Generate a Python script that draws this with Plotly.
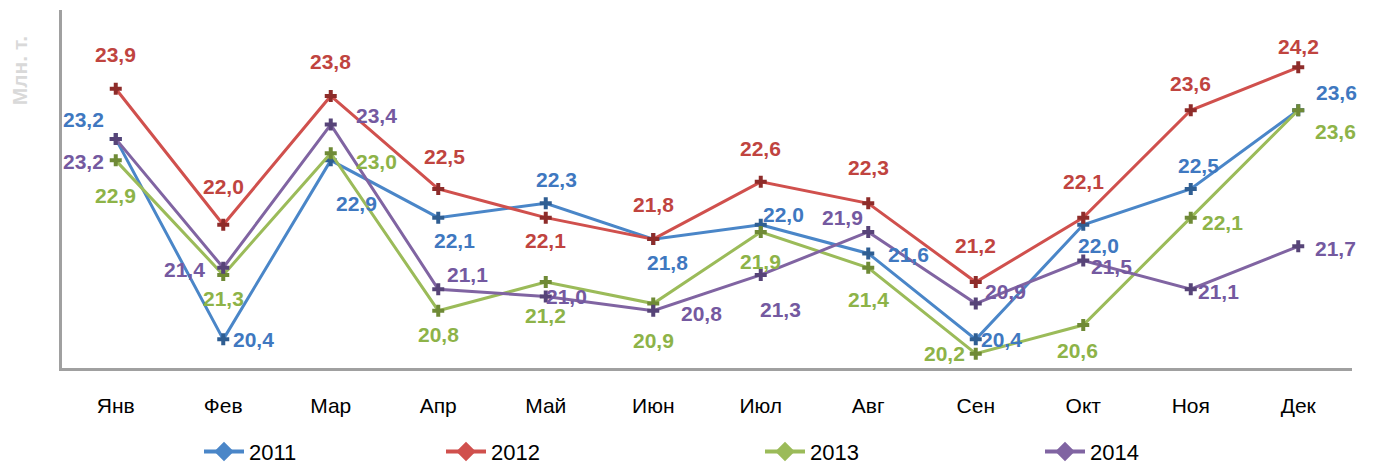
import plotly.graph_objects as go

months = ["Янв", "Фев", "Мар", "Апр", "Май", "Июн", "Июл", "Авг", "Сен", "Окт", "Ноя", "Дек"]
v2011 = [23.2, 20.4, 22.9, 22.1, 22.3, 21.8, 22.0, 21.6, 20.4, 22.0, 22.5, 23.6]
v2012 = [23.9, 22.0, 23.8, 22.5, 22.1, 21.8, 22.6, 22.3, 21.2, 22.1, 23.6, 24.2]
v2013 = [22.9, 21.3, 23.0, 20.8, 21.2, 20.9, 21.9, 21.4, 20.2, 20.6, 22.1, 23.6]
v2014 = [23.2, 21.4, 23.4, 21.1, 21.0, 20.8, 21.3, 21.9, 20.9, 21.5, 21.1, 21.7]
years = ["2011", "2012", "2013", "2014"]

# label offsets in pixels (dx right, dy down) relative to each point
off2011 = [(-32, -19), (30, 0), (26, 43), (16, 23), (11, -24), (14, 23),
           (23, -10), (40, 1), (26, 0), (15, 21), (8, -24), (38, -18)]
off2012 = [(0, -34), (0, -38), (0, -34), (6, -33), (0, 23), (0, -35),
           (0, -33), (0, -36), (0, -37), (0, -36), (0, -27), (0, -21)]
off2013 = [(0, 35), (0, 24), (46, 8), (0, 24), (0, 33), (0, 37),
           (0, 30), (0, 32), (-31, 0), (-6, 25), (32, 5), (37, 21)]
off2014 = [(-32, 23), (-39, 2), (46, -9), (29, -15), (21, 0), (48, 3),
           (20, 35), (-26, -14), (30, -12), (28, 6), (28, 2), (37, 2)]

colors = ["#4a86c8", "#d0504d", "#9bbb59", "#8064a2"]
dark = ["#2f5e92", "#8e2c2a", "#6f8a36", "#574478"]
label_colors = ["#3f78c0", "#c0443f", "#8db348", "#7459a0"]

series = [v2011, v2012, v2013, v2014]
offsets = [off2011, off2012, off2013, off2014]

SANS = "Liberation Sans, Arial, sans-serif"

fig = go.Figure()
annotations = []
legend_names = ["legend", "legend2", "legend3", "legend4"]
for name, vals, offs, c, d, lc, lg in zip(years, series, offsets, colors, dark, label_colors, legend_names):
    fig.add_trace(go.Scatter(
        x=months, y=vals, mode="lines+markers", name=name, showlegend=False,
        line=dict(color=c, width=3),
        marker=dict(symbol="cross", size=10, color=d, line=dict(width=0)),
    ))
    fig.add_trace(go.Scatter(
        x=[None], y=[None], mode="lines+markers", name=name, legend=lg,
        line=dict(color=c, width=4),
        marker=dict(symbol="diamond", size=15, color=c),
    ))
    for m, v, (dx, dy) in zip(months, vals, offs):
        annotations.append(dict(
            x=m, y=v, xref="x", yref="y", text=f"<b>{v:.1f}</b>".replace(".", ","),
            showarrow=False, xshift=dx, yshift=-dy, xanchor="center", yanchor="middle",
            font=dict(family=SANS, size=21, color=lc),
        ))

annotations.append(dict(text="<b>Млн. т.</b>", xref="paper", yref="paper",
                        x=-0.033, y=0.83, xanchor="center", yanchor="middle", textangle=-90,
                        showarrow=False, font=dict(family=SANS, size=21, color="#d9d9d9")))

W = 1290.0
def px(xpix):
    return (xpix - 62) / W

leg_common = dict(orientation="h", y=-0.175, yanchor="top", xanchor="left",
                  bgcolor="rgba(0,0,0,0)", borderwidth=0, itemwidth=40,
                  font=dict(family=SANS, size=22, color="black"))
legend_x = [199, 441, 760, 1040]

layout_legends = {}
for lg, lx in zip(legend_names, legend_x):
    d = dict(leg_common)
    d["x"] = px(lx)
    layout_legends[lg] = d

fig.update_layout(
    width=1383, height=470,
    margin=dict(l=62, r=31, t=10, b=102, autoexpand=False),
    plot_bgcolor="white", paper_bgcolor="white",
    font=dict(family=SANS, color="black"),
    showlegend=True,
    xaxis=dict(type="category", range=[-0.5, 11.5], showgrid=False, zeroline=False,
               showline=True, linecolor="#a0a0a0", linewidth=3,
               ticks="outside", ticklen=17, tickcolor="rgba(0,0,0,0)",
               tickfont=dict(family=SANS, size=21, color="black")),
    yaxis=dict(range=[20, 25], showgrid=False, zeroline=False, showticklabels=False,
               showline=True, linecolor="#a0a0a0", linewidth=3, ticks=""),
    annotations=annotations,
    **layout_legends,
)

fig.write_html("out.html", config={"displayModeBar": False},
               post_script="document.body.style.margin='0';document.body.style.overflow='hidden';")
